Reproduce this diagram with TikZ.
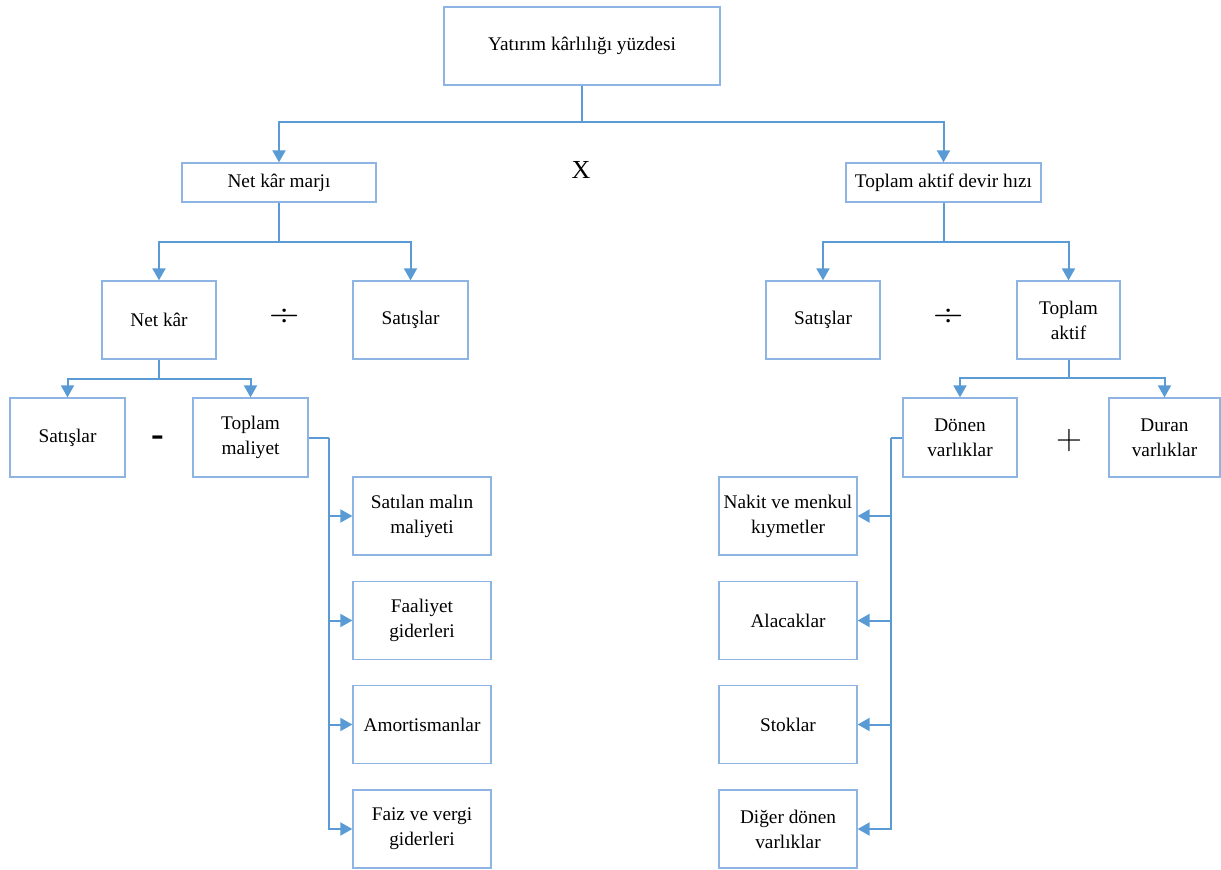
\documentclass[tikz,border=0pt]{standalone}
\usepackage{fontspec}
\newfontfamily\tnr{Liberation Serif}
\usetikzlibrary{arrows.meta}
\definecolor{linec}{HTML}{5B9BD5}
\definecolor{boxc}{HTML}{8EB4E3}
\begin{document}
\begin{tikzpicture}[x=1pt,y=-1pt,
 box/.style={draw=boxc,line width=1.3pt,inner sep=0pt,align=center,font=\tnr\fontsize{19.3}{25}\selectfont,text=black},
 conn/.style={draw=linec,line width=2pt},
 arr/.style={conn,-{Triangle[width=13pt,length=12pt]}},
 sym/.style={inner sep=0pt,text=black}]
\useasboundingbox (0,0) rectangle (1221,870);
% boxes
\node[box,minimum width=276pt,minimum height=78pt] (top) at (582,46) {Yatırım kârlılığı yüzdesi};
\node[box,minimum width=194pt,minimum height=39pt] (nkm) at (279,182.5) {Net kâr marjı};
\node[box,minimum width=195pt,minimum height=39pt] (tad) at (943.5,182.5) {Toplam aktif devir hızı};
\node[box,minimum width=114pt,minimum height=78pt] (netkar) at (159,320) {Net kâr};
\node[box,minimum width=115pt,minimum height=78pt] (sat1) at (410.5,320) {Satışlar};
\node[box,minimum width=114pt,minimum height=78pt] (sat2) at (823,320) {Satışlar};
\node[box,minimum width=103pt,minimum height=78pt] (topak) at (1068.5,320) {Toplam\\aktif};
\node[box,minimum width=115pt,minimum height=79pt] (sat3) at (67.5,437.5) {Satışlar};
\node[box,minimum width=115pt,minimum height=79pt] (topmal) at (250.5,437.5) {Toplam\\maliyet};
\node[box,minimum width=114pt,minimum height=79pt] (donen) at (960,437.5) {Dönen\\varlıklar};
\node[box,minimum width=111pt,minimum height=79pt] (duran) at (1164.5,437.5) {Duran\\varlıklar};
% left column
\node[box,minimum width=138pt,minimum height=78pt] (l1) at (422,516) {Satılan malın\\maliyeti};
\node[box,minimum width=138pt,minimum height=78pt] (l2) at (422,620.5) {Faaliyet\\giderleri};
\node[box,minimum width=138pt,minimum height=78pt] (l3) at (422,724.5) {Amortismanlar};
\node[box,minimum width=138pt,minimum height=78pt] (l4) at (422,829) {Faiz ve vergi\\giderleri};
% right column
\node[box,minimum width=138pt,minimum height=78pt] (r1) at (788,516) {Nakit ve menkul\\kıymetler};
\node[box,minimum width=138pt,minimum height=78pt] (r2) at (788,620.5) {Alacaklar};
\node[box,minimum width=138pt,minimum height=78pt] (r3) at (788,724.5) {Stoklar};
\node[box,minimum width=138pt,minimum height=78pt] (r4) at (788,829) {Diğer dönen\\varlıklar};
% operators
\node[sym,font=\tnr\fontsize{26}{26}\selectfont] (opx) at (581,170) {X};
\node[sym,font=\fontsize{42}{42}\selectfont] (opd1) at (285,318) {÷};
\node[sym,font=\fontsize{42}{42}\selectfont] (opd2) at (949,318) {÷};
\node[sym,font=\tnr\bfseries\fontsize{38}{38}\selectfont] (opm) at (158,441) {-};
\node[sym,font=\fontsize{36}{36}\selectfont] (opp) at (1069,441) {+};
% connectors
\coordinate (t1) at (582,122);
\draw[conn] (top.south) -- (t1);
\draw[arr] (t1) -| (nkm.north);
\draw[arr] (t1) -| (tad.north);
\coordinate (t2) at (279,242);
\draw[conn] (nkm.south) -- (t2);
\draw[arr] (t2) -| (netkar.north);
\draw[arr] (t2) -| (sat1.north);
\coordinate (t3) at (943.5,242);
\draw[conn] (tad.south) -- (t3);
\draw[arr] (t3) -| (sat2.north);
\draw[arr] (t3) -| (topak.north);
\coordinate (t4) at (159,379);
\draw[conn] (netkar.south) -- (t4);
\draw[arr] (t4) -| (sat3.north);
\draw[arr] (t4) -| (topmal.north);
\coordinate (t5) at (1068.5,378);
\draw[conn] (topak.south) -- (t5);
\draw[arr] (t5) -| (donen.north);
\draw[arr] (t5) -| (duran.north);
\coordinate (lb) at (329,437.5);
\draw[conn] (topmal.east) -- (lb);
\draw[arr] (lb) |- (l1.west);
\draw[arr] (lb) |- (l2.west);
\draw[arr] (lb) |- (l3.west);
\draw[arr] (lb) |- (l4.west);
\coordinate (rb) at (891,437.5);
\draw[conn] (donen.west) -- (rb);
\draw[arr] (rb) |- (r1.east);
\draw[arr] (rb) |- (r2.east);
\draw[arr] (rb) |- (r3.east);
\draw[arr] (rb) |- (r4.east);
\end{tikzpicture}
\end{document}
